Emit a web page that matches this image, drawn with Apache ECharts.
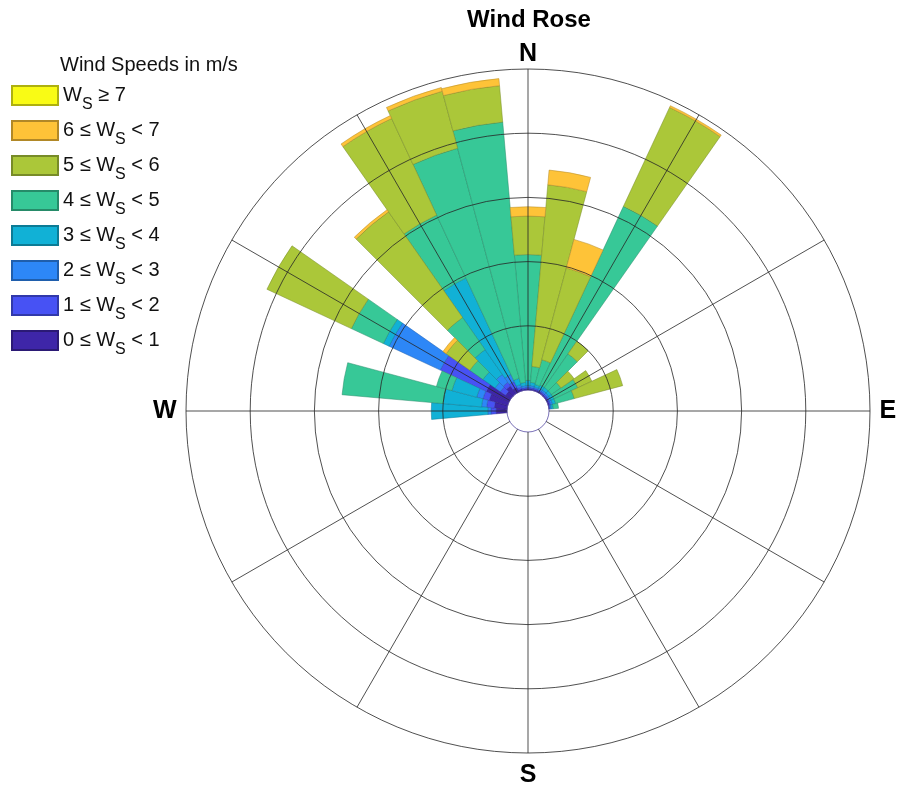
<!DOCTYPE html>
<html><head><meta charset="utf-8">
<script src="https://cdn.jsdelivr.net/npm/echarts@6/dist/echarts.min.js"></script>
<style>html,body{margin:0;padding:0;background:#fff}#c{width:900px;height:787px}</style>
</head><body><div id="c"></div>
<script>
// Direction bins (degrees from north, clockwise), 10-degree sectors
const directions = [0,10,20,30,40,50,60,70,80,90,100,110,120,130,140,150,160,170,
                    180,190,200,210,220,230,240,250,260,270,280,290,300,310,320,330,340,350];
// Frequencies per speed class (one ring = 1 unit)
const ws0to1 = [0.02,0.02,0.02,0.02,0.02,0.02,0.02,0.02,0.01, 0,0,0,0,0,0,0,0,0,0,0,0,0,0,0,0,0,0, 0.17,0.20,0.30,0.39,0.10,0.15,0.08,0.03,0.02];
const ws1to2 = [0.02,0.02,0.02,0.02,0.02,0.02,0.02,0.02,0.01, 0,0,0,0,0,0,0,0,0,0,0,0,0,0,0,0,0,0, 0.08,0.12,0.10,0.79,0.10,0.07,0.10,0.03,0.02];
const ws2to3 = [0.03,0.03,0.02,0.03,0.03,0.03,0.03,0.03,0.02, 0,0,0,0,0,0,0,0,0,0,0,0,0,0,0,0,0,0, 0.05,0.08,0.10,0.88,0.10,0.15,0.12,0.04,0.03];
const ws3to4 = [0.08,0.05,0.04,0.05,0.05,0.05,0.05,0.05,0.03, 0,0,0,0,0,0,0,0,0,0,0,0,0,0,0,0,0,0, 0.88,0.60,0.40,0.10,0.23,0.47,1.66,0.10,0.05];
const ws4to5 = [1.96,0.25,0.40,3.07,0.64,0.18,0.41,0.30,0.08, 0,0,0,0,0,0,0,0,0,0,0,0,0,0,0,0,0,0, 0,1.58,0.25,0.55,0.25,0.61,1.08,3.71,4.07];
const ws5to6 = [0.60,2.84,1.48,1.70,0.24,0.25,0.24,0.78,0, 0,0,0,0,0,0,0,0,0,0,0,0,0,0,0,0,0,0, 0,0,0,1.45,0.45,2.01,1.66,0.92,0.57];
const ws6to7 = [0.145,0.23,0.46,0.03,0,0,0,0,0, 0,0,0,0,0,0,0,0,0,0,0,0,0,0,0,0,0,0, 0,0,0,0,0.06,0.04,0.05,0.06,0.11];
const ws7up  = [0,0,0,0,0,0,0,0,0, 0,0,0,0,0,0,0,0,0,0,0,0,0,0,0,0,0,0, 0,0,0,0,0,0,0,0,0];

const classNames = ['0 ≤ Ws < 1','1 ≤ Ws < 2','2 ≤ Ws < 3','3 ≤ Ws < 4','4 ≤ Ws < 5','5 ≤ Ws < 6','6 ≤ Ws < 7','Ws ≥ 7'];
const classLabels = ['0 ≤ W{sub|S} < 1','1 ≤ W{sub|S} < 2','2 ≤ W{sub|S} < 3','3 ≤ W{sub|S} < 4',
                     '4 ≤ W{sub|S} < 5','5 ≤ W{sub|S} < 6','6 ≤ W{sub|S} < 7','W{sub|S} ≥ 7'];
const classColors = ['#3e26a8','#4752f4','#2d87f7','#11b1d6','#37c897','#abc739','#fec338','#f9fb15'];
const classBorders = ['#2b1a75','#3139aa','#1f5eac','#0c7b95','#268b69','#778b28','#b18827','#aeb00f'];
const classData = [ws0to1, ws1to2, ws2to3, ws3to4, ws4to5, ws5to6, ws6to7, ws7up];

const compassLabels = {0:'{n|N}', 90:'E', 180:'S', 270:'W'};
const ringMax = 5;
const FONT = '"Liberation Sans", Arial, Helvetica, sans-serif';

const chart = echarts.init(document.getElementById('c'), null, {renderer:'canvas'});
const labelMap = {};
classNames.forEach((n,i)=>{ labelMap[n] = classLabels[i]; });

const series = classNames.map((name, i) => ({
  type: 'bar',
  name: name,
  coordinateSystem: 'polar',
  polarIndex: 0,
  stack: 'rose',
  barCategoryGap: '0%',
  data: classData[i].map(v => v === 0 ? null : v),
  itemStyle: { color: classColors[i], borderColor: classBorders[i], borderWidth: 0.5 },
  emphasis: { disabled: true },
  z: 2
}));

const option = {
  animation: false,
  backgroundColor: '#fff',
  title: [
    { text: 'Wind Rose', left: 529, top: 8, textAlign: 'center', padding: 0,
      textStyle: { fontSize: 24, fontWeight: 'bold', color: '#000', fontFamily: FONT } },
    { text: 'Wind Speeds in m/s', left: 60, top: 55, padding: 0,
      textStyle: { fontSize: 20, fontWeight: 'normal', color: '#111', fontFamily: FONT } }
  ],
  legend: {
    orient: 'vertical', left: 11, top: 78, padding: 0,
    itemWidth: 46, itemHeight: 19, itemGap: 0, icon: 'rect',
    data: classNames.slice().reverse(),
    formatter: name => labelMap[name],
    selectedMode: false,
    textStyle: {
      fontSize: 20, fontFamily: FONT, color: '#111', lineHeight: 24,
      rich: { sub: { fontSize: 16, fontFamily: FONT, color: '#111', lineHeight: 24, padding: [19,0,0,0] } }
    }
  },
  polar: [
    { center: [528, 411], radius: [21, 342] },
    { center: [528, 411], radius: [21, 342] }
  ],
  angleAxis: [
    { polarIndex: 0, type: 'category', data: directions.map(String), startAngle: 95, clockwise: true,
      boundaryGap: true, axisLine: {show:false}, axisTick:{show:false}, axisLabel:{show:false}, splitLine:{show:false} },
    { polarIndex: 1, type: 'value', min: 0, max: 360, interval: 30, startAngle: 90, clockwise: true, z: 10,
      axisLine: { show: false }, axisTick: { show: false },
      splitLine: { show: true, lineStyle: { color: '#262626', width: 0.9, opacity: 0.9 } },
      axisLabel: { show: true, margin: 9.5, fontSize: 25, fontWeight: 'bold', color: '#000', fontFamily: FONT,
        rich: { n: { fontSize: 25, fontWeight: 'bold', color: '#000', fontFamily: FONT, lineHeight: 11 } },
        formatter: v => compassLabels[v] || '' } }
  ],
  radiusAxis: [
    { polarIndex: 0, type: 'value', min: 0, max: ringMax, axisLine:{show:false}, axisTick:{show:false},
      axisLabel:{show:false}, splitLine:{show:false} },
    { polarIndex: 1, type: 'value', min: 0, max: ringMax, interval: 1, z: 10,
      axisLine:{show:false}, axisTick:{show:false}, axisLabel:{show:false},
      splitLine: { show: true, lineStyle: { color: ['#5a4fa6','#262626','#262626','#262626','#262626','#262626'], width: 0.9, opacity: 0.9 } } }
  ],
  series: series
};
chart.setOption(option);
</script></body></html>
